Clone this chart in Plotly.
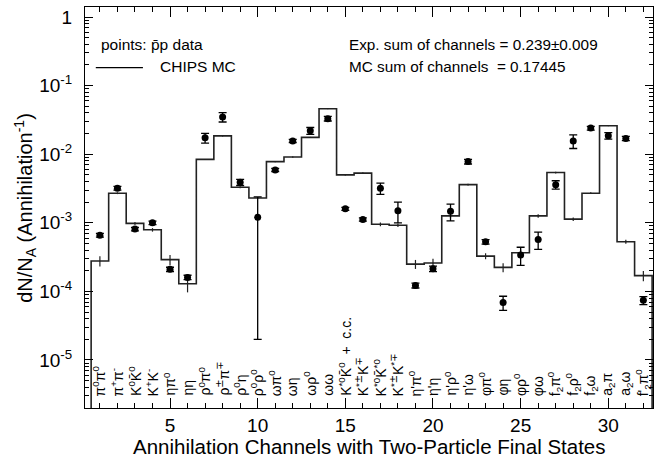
import plotly.graph_objects as go
import numpy as np

MP = '<span style="font-family:DejaVu Sans">∓</span>'
PM = '<span style="font-family:DejaVu Sans">±</span>'

channels = list(range(1, 33))
labels = [
    "π<sup>0</sup>π<sup>0</sup>", "π<sup>+</sup>π<sup>-</sup>", "K<sup>0</sup>K̄<sup>0</sup>", "K<sup>+</sup>K<sup>-</sup>",
    "ηπ<sup>0</sup>", "ηη", "ρ<sup>0</sup>π<sup>0</sup>", "ρ<sup>" + PM + "</sup>π<sup>" + MP + "</sup>",
    "ρ<sup>0</sup>η", "ρ<sup>0</sup>ρ<sup>0</sup>", "ωπ<sup>0</sup>", "ωη",
    "ωρ<sup>0</sup>", "ωω", "K<sup>*0</sup>K̄<sup>0</sup>  +  c.c.", "K<sup>*" + PM + "</sup>K<sup>" + MP + "</sup>",
    "K<sup>*0</sup>K̄<sup>*0</sup>", "K<sup>*" + PM + "</sup>K<sup>*" + MP + "</sup>", "η'π<sup>0</sup>", "η'η",
    "η'ρ<sup>0</sup>", "η'ω", "φπ<sup>0</sup>", "φη",
    "φρ<sup>0</sup>", "φω", "f<sub>2</sub>π<sup>0</sup>", "f<sub>2</sub>ρ<sup>0</sup>",
    "f<sub>2</sub>ω", "a<sub>2</sub>π", "a<sub>2</sub>ω", "f'<sub>2</sub>π<sup>0</sup>",
]

data_vals = [6.6e-4, 3.2e-3, 8.1e-4, 1.0e-3, 2.1e-4, 1.6e-4, 1.73e-2, 3.5e-2,
             3.9e-3, 1.2e-3, 5.9e-3, 1.56e-2, 2.2e-2, 3.3e-2, 1.6e-3, 1.12e-3,
             3.2e-3, 1.5e-3, 1.22e-4, 2.14e-4, 1.47e-3, 7.8e-3, 5.3e-4, 6.9e-5,
             3.4e-4, 5.7e-4, 3.6e-3, 1.56e-2, 2.4e-2, 1.86e-2, 1.7e-2, 7.4e-5]
data_errs = [4e-5, 2e-4, 5e-5, 6e-5, 1.5e-5, 1.2e-5, 2.8e-3, 5.5e-3,
             4e-4, 1.18e-3, 3e-4, 8e-4, 2.5e-3, 2.5e-3, 8e-5, 6e-5,
             6e-4, 5e-4, 1e-5, 2e-5, 4e-4, 6e-4, 4e-5, 1.6e-5,
             1e-4, 1.6e-4, 5e-4, 3.5e-3, 1.5e-3, 2e-3, 1.2e-3, 1e-5]

mc_vals = [2.77e-4, 2.7e-3, 9.8e-4, 7.9e-4, 2.9e-4, 1.29e-4, 8.4e-3, 1.85e-2,
           3.3e-3, 2.3e-3, 7.8e-3, 9.1e-3, 1.76e-2, 4.6e-2, 5.0e-3, 5.3e-3,
           9.5e-4, 9.2e-4, 2.5e-4, 2.6e-4, 1.26e-3, 3.6e-3, 3.27e-4, 2.24e-4,
           3.65e-4, 1.26e-3, 5.4e-3, 1.13e-3, 2.7e-3, 2.6e-2, 5.3e-4, 1.7e-4]
mc_rel_errs = [0.17, 0.03, 0.05, 0.06, 0.17, 0.25, 0.01, 0.01,
               0.03, 0.02, 0.02, 0.02, 0.01, 0.01, 0.02, 0.02,
               0.06, 0.06, 0.15, 0.15, 0.06, 0.03, 0.10, 0.15,
               0.12, 0.06, 0.03, 0.06, 0.03, 0.01, 0.07, 0.17]

y_floor = 1e-8
FONT = "Liberation Sans, Arial, sans-serif"

# histogram step outline built from bin edges
edges = [c - 0.5 for c in channels] + [channels[-1] + 0.5]
step_x = [edges[0]] + edges + [edges[-1]]
step_y = [y_floor] + mc_vals + [mc_vals[-1]] + [y_floor]

fig = go.Figure()
fig.add_trace(go.Scatter(x=step_x, y=step_y, mode="lines", line=dict(color="#222222", width=1.6, shape="hv"),
                         showlegend=False, hoverinfo="skip"))
fig.add_trace(go.Scatter(x=channels, y=mc_vals, mode="markers", marker=dict(size=1, color="#222222"),
                         error_y=dict(type="data", array=[v * r for v, r in zip(mc_vals, mc_rel_errs)],
                                      color="#222222", thickness=1.2, width=0),
                         showlegend=False))
fig.add_trace(go.Scatter(x=channels, y=data_vals, mode="markers", marker=dict(size=7, color="black"),
                         error_y=dict(type="data", array=data_errs, color="black", thickness=1.3, width=4),
                         showlegend=False))

# rotated channel labels
for c, lab in zip(channels, labels):
    fig.add_annotation(x=c, y=0.025, xref="x", yref="paper", text=lab, textangle=-90,
                       showarrow=False, xanchor="center", yanchor="bottom",
                       font=dict(family=FONT, size=14, color="black"))

y_major = [10.0 ** e for e in range(-5, 1)]
y_text = ["10<sup>-5</sup>", "10<sup>-4</sup>", "10<sup>-3</sup>", "10<sup>-2</sup>", "10<sup>-1</sup>", "1"]
y_minor = [m * 10.0 ** e for e in range(-6, 1) for m in range(2, 10)]

fig.update_xaxes(range=[0.15, 32.55], showgrid=False, zeroline=False, showline=True, linecolor="black",
                 linewidth=1.2, mirror="allticks", ticks="inside", ticklen=10, tickwidth=1, tickcolor="black",
                 tickmode="array", tickvals=[5, 10, 15, 20, 25, 30],
                 tickfont=dict(family=FONT, size=19, color="black"), ticklabelstandoff=0,
                 minor=dict(ticks="inside", ticklen=5, tickcolor="black", tickvals=channels))
fig.update_yaxes(type="log", range=[-5.70, 0.146], showgrid=False, zeroline=False, showline=True,
                 linecolor="black", linewidth=1.2, mirror="allticks", ticks="inside", ticklen=8, tickwidth=1,
                 tickcolor="black", tickmode="array", tickvals=y_major, ticktext=y_text,
                 tickfont=dict(family=FONT, size=19, color="black"), ticklabelstandoff=8,
                 minor=dict(ticks="inside", ticklen=4, tickcolor="black", tickvals=y_minor))

# axis titles
fig.add_annotation(x=0.5, y=-0.096, xref="paper", yref="paper", text="Annihilation Channels with Two-Particle Final States",
                   showarrow=False, xanchor="center", yanchor="middle", font=dict(family=FONT, size=20.5, color="black"))
fig.add_annotation(x=-0.105, y=0.5, xref="paper", yref="paper", text="dN/N<sub>A</sub> (Annihilation<sup>-1</sup>)",
                   textangle=-90, showarrow=False, xanchor="center", yanchor="middle",
                   font=dict(family=FONT, size=20, color="black"))

# legend-like texts
fig.add_annotation(x=0.024, y=0.906, xref="paper", yref="paper", text="points: p̄p data", showarrow=False,
                   xanchor="left", yanchor="middle", font=dict(family=FONT, size=15.5, color="black"))
fig.add_shape(type="line", x0=0.019, x1=0.102, y0=0.849, y1=0.849, xref="paper", yref="paper",
              line=dict(color="black", width=1.2))
fig.add_annotation(x=0.129, y=0.852, xref="paper", yref="paper", text="CHIPS MC", showarrow=False,
                   xanchor="left", yanchor="middle", font=dict(family=FONT, size=15.5, color="black"))
fig.add_annotation(x=0.461, y=0.906, xref="paper", yref="paper", text="Exp. sum of channels = 0.239±0.009",
                   showarrow=False, xanchor="left", yanchor="middle", font=dict(family=FONT, size=15.3, color="black"))
fig.add_annotation(x=0.461, y=0.852, xref="paper", yref="paper", text="MC sum of channels  = 0.17445",
                   showarrow=False, xanchor="left", yanchor="middle", font=dict(family=FONT, size=15.3, color="black"))

fig.update_layout(width=659, height=464, margin=dict(l=85, r=6, t=7, b=55.5),
                  plot_bgcolor="white", paper_bgcolor="white", showlegend=False)

fig.write_html("out.html")
